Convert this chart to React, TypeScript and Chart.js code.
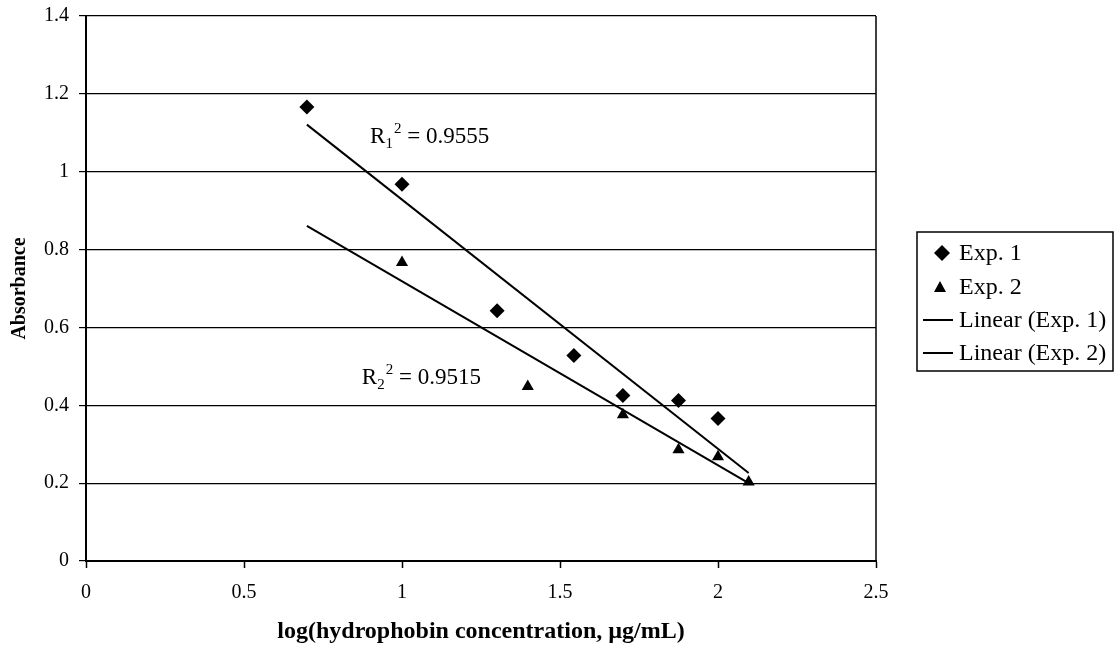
import React, { useEffect, useRef } from "react";
import { Chart, registerables } from "chart.js";

Chart.register(...registerables);

const FONT = '"Liberation Serif", "Times New Roman", serif';

const exp1X = [0.699, 1.0, 1.301, 1.544, 1.699, 1.875, 2.0];
const exp1Y = [1.166, 0.968, 0.643, 0.528, 0.425, 0.412, 0.366];
const exp2X = [1.0, 1.398, 1.699, 1.875, 2.0, 2.097];
const exp2Y = [0.767, 0.448, 0.376, 0.286, 0.268, 0.203];
const trend1X = [0.699, 2.097];
const trend1Y = [1.121, 0.226];
const trend2X = [0.699, 2.097];
const trend2Y = [0.861, 0.2];

const xTickValues = [0, 0.5, 1, 1.5, 2, 2.5];
const xTickLabels = ["0", "0.5", "1", "1.5", "2", "2.5"];
const yTickValues = [0, 0.2, 0.4, 0.6, 0.8, 1, 1.2, 1.4];
const yTickLabels = ["0", "0.2", "0.4", "0.6", "0.8", "1", "1.2", "1.4"];

const seriesNames = ["Exp. 1", "Exp. 2", "Linear (Exp. 1)", "Linear (Exp. 2)"];
const rLabels = [
  { sub: "1", value: "0.9555", x: 0.899, y: 1.095 },
  { sub: "2", value: "0.9515", x: 0.873, y: 0.476 },
];

const toPts = (xs: number[], ys: number[]) => xs.map((x, i) => ({ x, y: ys[i] }));

function labelFor(values: number[], labels: string[], v: number) {
  const i = values.findIndex((t) => Math.abs(t - v) < 1e-6);
  return i >= 0 ? labels[i] : "";
}

const overlayPlugin = {
  id: "overlay",
  afterDraw(chart: any) {
    const ctx = chart.ctx;
    const xs = chart.scales.x;
    const ys = chart.scales.y;
    const area = chart.chartArea;
    ctx.save();
    ctx.strokeStyle = "#000";
    ctx.lineWidth = 1.5;
    ctx.beginPath();
    ctx.moveTo(area.right, area.top);
    ctx.lineTo(area.right, area.bottom);
    ctx.stroke();

    ctx.fillStyle = "#000";
    ctx.textBaseline = "alphabetic";
    for (const r of rLabels) {
      let px = xs.getPixelForValue(r.x);
      const py = ys.getPixelForValue(r.y) + 8;
      ctx.font = `23px ${FONT}`;
      ctx.fillText("R", px, py);
      px += ctx.measureText("R").width;
      ctx.font = `15px ${FONT}`;
      ctx.fillText(r.sub, px, py + 5);
      const subW = ctx.measureText(r.sub).width;
      ctx.fillText("2", px + subW + 1, py - 10);
      px += subW + 1 + ctx.measureText("2").width;
      ctx.font = `23px ${FONT}`;
      ctx.fillText(" = " + r.value, px, py);
    }

    const lx = 917, ly = 232, lw = 196, lh = 139;
    ctx.lineWidth = 1.5;
    ctx.strokeRect(lx, ly, lw, lh);
    const rows = [253, 287, 320, 353];
    ctx.font = `24px ${FONT}`;
    ctx.textBaseline = "middle";
    ctx.textAlign = "left";
    rows.forEach((ry, i) => {
      if (i === 0) {
        ctx.beginPath();
        ctx.moveTo(942, ry - 8);
        ctx.lineTo(950, ry);
        ctx.lineTo(942, ry + 8);
        ctx.lineTo(934, ry);
        ctx.closePath();
        ctx.fill();
      } else if (i === 1) {
        ctx.beginPath();
        ctx.moveTo(940, ry - 6);
        ctx.lineTo(946, ry + 5);
        ctx.lineTo(934, ry + 5);
        ctx.closePath();
        ctx.fill();
      } else {
        ctx.lineWidth = 2;
        ctx.beginPath();
        ctx.moveTo(923, ry);
        ctx.lineTo(953, ry);
        ctx.stroke();
      }
      ctx.fillText(seriesNames[i], 959, ry + 1);
    });
    ctx.restore();
  },
};

export default function App() {
  const ref = useRef<HTMLCanvasElement | null>(null);
  useEffect(() => {
    if (!ref.current) return;
    const chart = new Chart(ref.current, {
      type: "scatter",
      data: {
        datasets: [
          {
            label: seriesNames[0],
            data: toPts(exp1X, exp1Y),
            pointStyle: "rectRot",
            pointRadius: 7.5,
            backgroundColor: "#000",
            borderColor: "#000",
            borderWidth: 0,
          },
          {
            label: seriesNames[1],
            data: toPts(exp2X, exp2Y),
            pointStyle: "triangle",
            pointRadius: 7,
            backgroundColor: "#000",
            borderColor: "#000",
            borderWidth: 0,
          },
          {
            type: "line",
            label: seriesNames[2],
            data: toPts(trend1X, trend1Y),
            borderColor: "#000",
            borderWidth: 2,
            pointRadius: 0,
            showLine: true,
            fill: false,
          },
          {
            type: "line",
            label: seriesNames[3],
            data: toPts(trend2X, trend2Y),
            borderColor: "#000",
            borderWidth: 2,
            pointRadius: 0,
            showLine: true,
            fill: false,
          },
        ] as any,
      },
      options: {
        animation: false,
        responsive: false,
        maintainAspectRatio: false,
        layout: { padding: { top: 16, right: 239, left: 0, bottom: 0 } },
        plugins: { legend: { display: false }, tooltip: { enabled: false } },
        scales: {
          x: {
            type: "linear",
            min: 0,
            max: 2.5,
            afterBuildTicks: (s: any) => {
              s.ticks = xTickValues.map((v) => ({ value: v }));
            },
            afterFit: (s: any) => {
              s.height = 89;
              s.paddingLeft = 0;
              s.paddingRight = 0;
            },
            ticks: {
              color: "#000",
              font: { family: FONT, size: 20 },
              padding: 13,
              maxRotation: 0,
              callback: (v: any) => labelFor(xTickValues, xTickLabels, Number(v)),
            },
            grid: {
              drawOnChartArea: false,
              tickLength: 7,
              tickColor: "#000",
              tickWidth: 1.5,
            },
            border: { display: true, color: "#000", width: 2 },
            title: {
              display: true,
              text: "log(hydrophobin concentration, µg/mL)",
              color: "#000",
              font: { family: FONT, size: 24, weight: "bold" },
              padding: { top: 0, bottom: 4 },
            },
          },
          y: {
            type: "linear",
            min: 0,
            max: 1.4,
            afterBuildTicks: (s: any) => {
              s.ticks = yTickValues.map((v) => ({ value: v }));
            },
            afterFit: (s: any) => {
              s.width = 86;
              s.paddingTop = 0;
              s.paddingBottom = 0;
            },
            ticks: {
              color: "#000",
              font: { family: FONT, size: 20 },
              padding: 10,
              callback: (v: any) => labelFor(yTickValues, yTickLabels, Number(v)),
            },
            grid: {
              color: "#000",
              lineWidth: 1.2,
              tickLength: 7,
              tickColor: "#000",
            },
            border: { display: true, color: "#000", width: 2 },
            title: {
              display: true,
              text: "Absorbance",
              color: "#000",
              font: { family: FONT, size: 20, weight: "bold" },
              padding: { top: 8, bottom: 0 },
            },
          },
        },
      } as any,
      plugins: [overlayPlugin],
    });
    return () => chart.destroy();
  }, []);
  return (
    <div style={{ position: "absolute", left: 0, top: 0, width: 1115, height: 650, background: "#fff" }}>
      <canvas ref={ref} width={1115} height={650} style={{ display: "block" }} />
    </div>
  );
}
